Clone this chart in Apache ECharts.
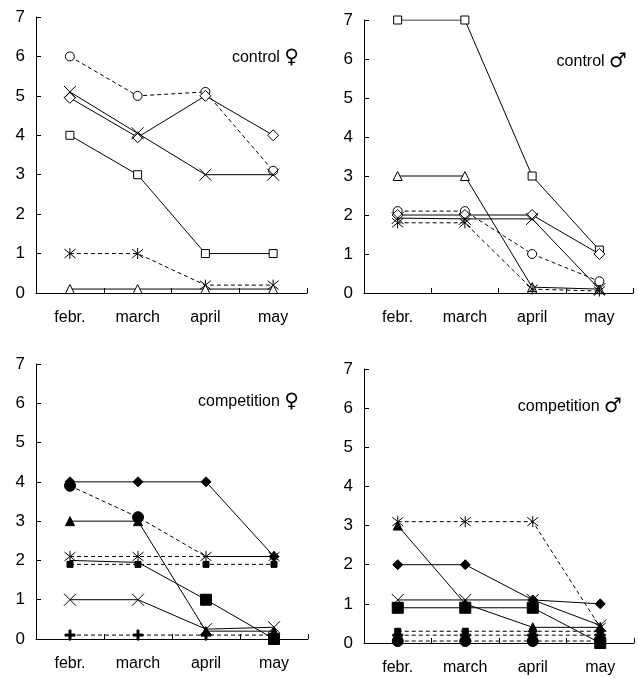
<!DOCTYPE html>
<html>
<head>
<meta charset="utf-8">
<script src="https://cdn.jsdelivr.net/npm/echarts@6/dist/echarts.min.js"></script>
<style>
html,body{margin:0;padding:0;background:#fff;}
#c{width:638px;height:678px;}
</style>
</head>
<body>
<div id="c"></div>
<script>
// ---- data ----
const months = ['febr.', 'march', 'april', 'may'];
const yTicks = [0, 1, 2, 3, 4, 5, 6, 7];
const panelNames = ['control', 'control', 'competition', 'competition'];
const panelSex = ['\u2640', '\u2642', '\u2640', '\u2642'];

// control female
const p1Circle   = [6, 5, 5.1, 3.1];
const p1Diamond  = [4.95, 3.95, 5, 4];
const p1Cross    = [5.1, 4.05, 3, 3];
const p1Square   = [4, 3, 1, 1];
const p1Aster    = [1, 1, 0.2, 0.2];
const p1Triangle = [0.1, 0.1, 0.1, 0.1];

// control male
const p2Square   = [7, 7, 3, 1.1];
const p2Triangle = [3, 3, 0.15, 0.1];
const p2Circle   = [2.1, 2.1, 1, 0.3];
const p2Diamond  = [2, 2, 2, 1];
const p2Cross    = [1.92, 1.9, 1.9, 0.1];
const p2Aster    = [1.8, 1.8, 0.1, 0.05];

// competition female
const p3Diamond  = [4, 4, 4, 2.1];
const p3Circle   = [3.9, 3.1, 2.1, 2.1];
const p3Triangle = [3, 3, 0.2, 0.2];
const p3Aster    = [2.1, 2.1, 2.1, 2.1];
const p3BigSq    = [2, 1.95, 1, 0];
const p3SmallSq  = [1.9, 1.9, 1.9, 1.9];
const p3Cross    = [1, 1, 0.25, 0.3];
const p3Plus     = [0.1, 0.1, 0.1, 0.1];

// competition male
const p4Aster    = [3.1, 3.1, 3.1, 0.4];
const p4Triangle = [3, 1, 0.4, 0.4];
const p4Diamond  = [2, 2, 1.1, 1];
const p4Cross    = [1.1, 1.1, 1.1, 0.45];
const p4BigSq    = [0.9, 0.9, 0.9, 0];
const p4SmallSq  = [0.3, 0.3, 0.3, 0.3];
const p4Plus     = [0.2, 0.2, 0.2, 0.2];
const p4Circle   = [0.05, 0.05, 0.05, 0.05];

// ---- styles ----
const SYM = {
  oCircle:  {symbol: 'circle', size: 9, fill: '#fff'},
  oSquare:  {symbol: 'rect', size: 8, fill: '#fff'},
  oDiamond: {symbol: 'diamond', size: 11, fill: '#fff'},
  oTriangle:{symbol: 'triangle', size: 9, fill: '#fff'},
  cross:    {symbol: 'path://M0 0 L10 10 M10 0 L0 10', size: 12, fill: 'transparent'},
  aster:    {symbol: 'path://M0 1 L10 9 M10 1 L0 9 M5 0 L5 10', size: 11, fill: 'transparent'},
  fCircle:  {symbol: 'circle', size: 11, fill: '#000'},
  fDiamond: {symbol: 'diamond', size: 10, fill: '#000'},
  fTriangle:{symbol: 'triangle', size: 9, fill: '#000'},
  fBigSq:   {symbol: 'rect', size: 11, fill: '#000'},
  fSmallSq: {symbol: 'rect', size: 6, fill: '#000'},
  fPlus:    {symbol: 'path://M4 0 H6 V4 H10 V6 H6 V10 H4 V6 H0 V4 H4 Z', size: 10, fill: '#000'}
};

// [values, marker, dashed, indices whose marker is hidden behind others]
const panels = [
  [[p1Circle,'oCircle',true,[]],[p1Diamond,'oDiamond',false,[]],[p1Cross,'cross',false,[]],[p1Square,'oSquare',false,[]],[p1Aster,'aster',true,[]],[p1Triangle,'oTriangle',false,[]]],
  [[p2Square,'oSquare',false,[]],[p2Triangle,'oTriangle',false,[]],[p2Circle,'oCircle',true,[]],[p2Diamond,'oDiamond',false,[]],[p2Cross,'cross',false,[]],[p2Aster,'aster',true,[]]],
  [[p3Diamond,'fDiamond',false,[]],[p3Circle,'fCircle',true,[2,3]],[p3Triangle,'fTriangle',false,[]],[p3Aster,'aster',true,[]],[p3BigSq,'fBigSq',false,[0,1]],[p3SmallSq,'fSmallSq',true,[]],[p3Cross,'cross',false,[]],[p3Plus,'fPlus',true,[]]],
  [[p4Aster,'aster',true,[]],[p4Triangle,'fTriangle',false,[]],[p4Diamond,'fDiamond',false,[]],[p4Cross,'cross',false,[]],[p4BigSq,'fBigSq',false,[]],[p4SmallSq,'fSmallSq',true,[]],[p4Plus,'fPlus',true,[]],[p4Circle,'fCircle',true,[]]]
];

const grids = [
  {left: 36, top: 17, width: 271, height: 276},
  {left: 364, top: 20, width: 269, height: 273},
  {left: 36, top: 364, width: 272, height: 275},
  {left: 364, top: 369, width: 270, height: 274}
];
const titlePos = [
  {x: 299, y: 58}, {x: 627, y: 62}, {x: 299, y: 402}, {x: 622, y: 407}
];

const FONT = 'Arial, "Liberation Sans", sans-serif';
const axisLine = {show: true, lineStyle: {color: '#000', width: 1}};

const xAxes = [], yAxes = [], series = [], graphics = [];
grids.forEach((g, i) => {
  xAxes.push({
    type: 'category', gridIndex: i, data: months, boundaryGap: true,
    axisLine: axisLine,
    axisTick: {show: true, inside: true, length: 5, lineStyle: {color: '#000'}},
    axisLabel: {color: '#000', fontSize: 16, fontFamily: FONT, margin: 17},
    splitLine: {show: false}
  });
  yAxes.push({
    type: 'value', gridIndex: i, min: yTicks[0], max: yTicks[yTicks.length - 1], interval: 1,
    axisLine: axisLine,
    axisTick: {show: true, inside: true, length: 5, lineStyle: {color: '#000'}},
    axisLabel: {color: '#000', fontSize: 17, fontFamily: FONT, margin: 11},
    splitLine: {show: false}
  });
  panels[i].forEach((s, k) => {
    const st = SYM[s[1]];
    const hidden = s[3];
    series.push({
      type: 'line', xAxisIndex: i, yAxisIndex: i,
      data: s[0].map((v, j) => hidden.indexOf(j) >= 0 ? {value: v, symbol: 'none'} : v),
      symbol: st.symbol, symbolSize: st.size, showSymbol: true,
      lineStyle: {color: '#000', width: 1, type: s[2] ? [4, 3] : 'solid'},
      itemStyle: {color: st.fill, borderColor: '#000', borderWidth: 1},
      z: 2 + k, animation: false, silent: true
    });
  });
  graphics.push({
    type: 'text', x: titlePos[i].x, y: titlePos[i].y,
    style: {
      text: '{t|' + panelNames[i] + ' }{s|' + panelSex[i] + '}',
      textAlign: 'right', textVerticalAlign: 'middle',
      rich: {
        t: {fill: '#000', fontSize: 16, fontFamily: FONT},
        s: {fill: '#000', fontSize: 20, fontFamily: '"DejaVu Sans", sans-serif', fontWeight: 'bold'}
      }
    }
  });
});

const chart = echarts.init(document.getElementById('c'), null, {renderer: 'canvas'});
chart.setOption({
  backgroundColor: '#fff',
  animation: false,
  grid: grids.map(g => Object.assign({containLabel: false}, g)),
  xAxis: xAxes, yAxis: yAxes, series: series, graphic: graphics
});
</script>
</body>
</html>
